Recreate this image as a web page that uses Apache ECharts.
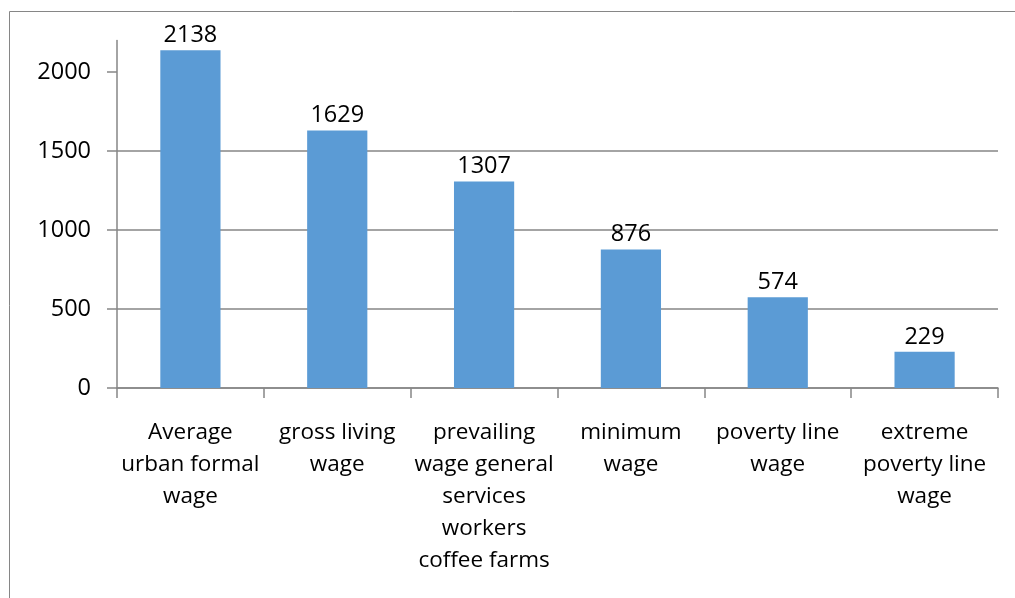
<!DOCTYPE html>
<html>
<head>
<meta charset="utf-8">
<script src="https://cdn.jsdelivr.net/npm/echarts@6/dist/echarts.min.js"></script>
<style>html,body{margin:0;padding:0;background:#fff}#c{width:1015px;height:598px}</style>
</head>
<body>
<div id="c"></div>
<script>
const categories = [
  "Average\nurban formal\nwage",
  "gross living\nwage",
  "prevailing\nwage general\nservices\nworkers\ncoffee farms",
  "minimum\nwage",
  "poverty line\nwage",
  "extreme\npoverty line\nwage"
];
const values = [2138, 1629, 1307, 876, 574, 229];
const yTicks = [0, 500, 1000, 1500, 2000];

const gray = '#868686';
const chart = echarts.init(document.getElementById('c'));
chart.setOption({
  animation: false,
  graphic: [{
    type: 'rect', shape: {x: 9.5, y: 11.5, width: 1200, height: 800},
    style: {fill: 'none', stroke: gray, lineWidth: 1}, silent: true
  }],
  grid: {left: 117, right: 17, top: 40.4, bottom: 210, containLabel: false},
  xAxis: {
    type: 'category', data: categories,
    axisLine: {lineStyle: {color: gray, width: 1.5}},
    axisTick: {show: true, length: 10, lineStyle: {color: gray, width: 1.5}},
    axisLabel: {color: '#000', fontFamily: 'Open Sans', fontSize: 22.5, lineHeight: 32, margin: 29, interval: 0}
  },
  yAxis: {
    type: 'value', min: 0, max: 2200, interval: 500,
    axisLine: {show: true, lineStyle: {color: gray, width: 1.5}},
    axisTick: {show: true, length: 10, customValues: yTicks, lineStyle: {color: gray, width: 1.5}},
    axisLabel: {color: '#000', fontFamily: 'Open Sans', fontSize: 23.5, margin: 26, customValues: yTicks,
      formatter: function (v) { return String(v); }},
    splitLine: {show: true, showMaxLine: false, lineStyle: {color: gray, width: 1.5}}
  },
  series: [{
    type: 'bar', data: values, barCategoryGap: '59%',
    itemStyle: {color: '#5B9BD5'},
    label: {show: true, position: 'top', distance: 3, color: '#000', fontFamily: 'Open Sans', fontSize: 23.5}
  }]
});
</script>
</body>
</html>
